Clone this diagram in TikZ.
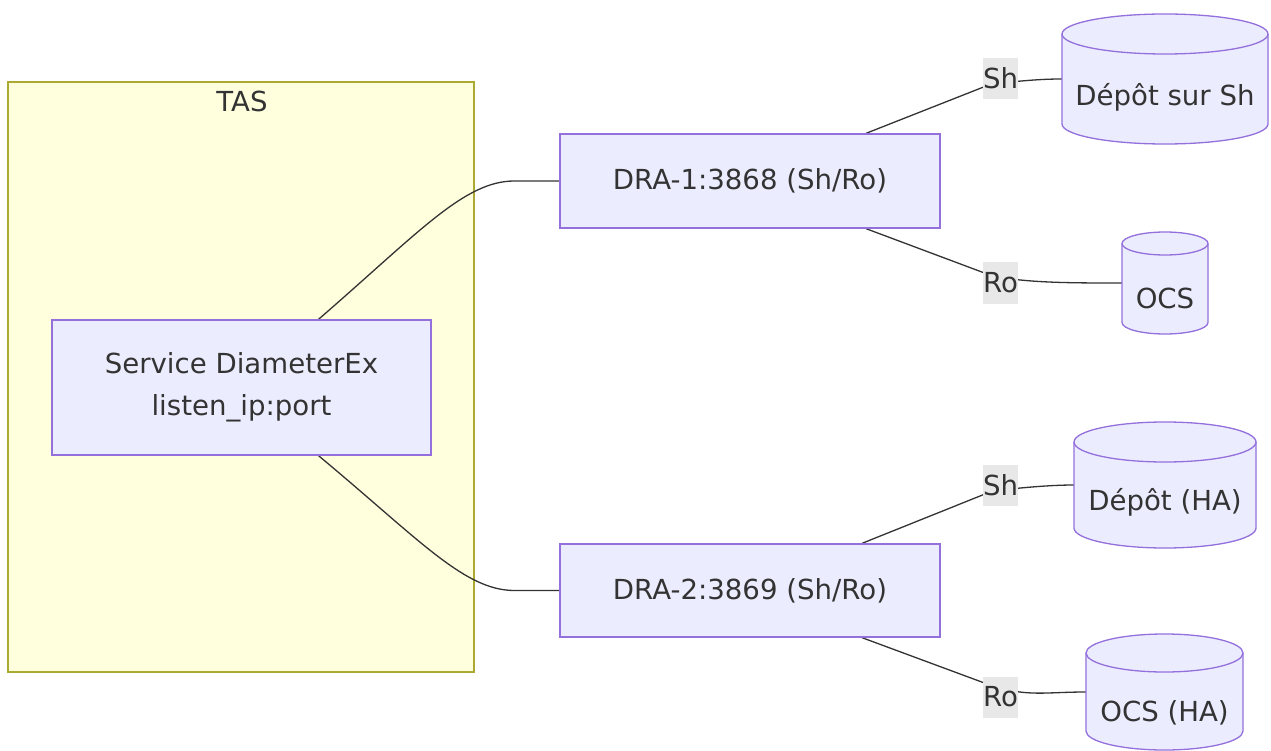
\documentclass[tikz,border=0pt]{standalone}
\usepackage{fontspec}
\setmainfont{DejaVu Sans}
\usetikzlibrary{calc}
\definecolor{nodefill}{HTML}{ECECFF}
\definecolor{nodestroke}{HTML}{9370DB}
\definecolor{clfill}{HTML}{FFFFDE}
\definecolor{clstroke}{HTML}{AAAA33}
\definecolor{txt}{HTML}{333333}
\definecolor{lblbg}{HTML}{E8E8E8}
\pgfdeclarelayer{bg}
\pgfdeclarelayer{edges}
\pgfsetlayers{bg,edges,main}
\tikzset{
  fnt/.style={font=\fontsize{27.6}{42}\selectfont, text=txt},
  procbox/.style={fnt, draw=nodestroke, fill=nodefill, line width=1.3pt, inner sep=0pt, align=center},
  elabel/.style={fnt, fill=lblbg, inner sep=0pt, minimum width=35pt, minimum height=41pt},
  edge/.style={draw=txt, line width=1.3pt},
  cylshape/.style={draw=nodestroke, fill=nodefill, line width=1.3pt},
}
% name, cx, ytop, ybot, rx, ry, text, text y
\newcommand{\mycyl}[8]{%
  \path[cylshape] ({#2-#5},{#3+#6}) -- ({#2-#5},{#4-#6})
     arc[start angle=180,end angle=360,x radius=#5pt,y radius=#6pt]
     -- ({#2+#5},{#3+#6})
     arc[start angle=0,end angle=180,x radius=#5pt,y radius=#6pt] -- cycle;
  \draw[draw=nodestroke, line width=1.3pt] ({#2-#5},{#3+#6})
     arc[start angle=180,end angle=360,x radius=#5pt,y radius=#6pt];
  \node[inner sep=0pt, minimum width={2*#5pt}, minimum height={(#4-#3)*1pt}] (#1) at (#2,{(#3+#4)/2}) {};
  \node[fnt] at (#2,#8) {#7};
}
\begin{document}
\begin{tikzpicture}[x=1pt,y=-1pt]
\useasboundingbox (0,0) rectangle (1271,751);
% cluster
\begin{pgfonlayer}{bg}
\fill[white] (0,0) rectangle (1271,751);
\node[draw=clstroke, fill=clfill, line width=1.3pt, minimum width=466pt, minimum height=590pt, inner sep=0pt] (tas) at (241,377) {};
\end{pgfonlayer}
\node[fnt, anchor=center] (tasl) at (242,101) {TAS};
% nodes
\node[procbox, minimum width=379pt, minimum height=135pt] (svc) at (241.5,387.5) {Service DiameterEx\\listen\_ip:port};
\node[procbox, minimum width=380pt, minimum height=94pt] (dra1) at (750,181) {DRA-1:3868 (Sh/Ro)};
\node[procbox, minimum width=380pt, minimum height=93pt] (dra2) at (750,590.5) {DRA-2:3869 (Sh/Ro)};
\mycyl{c1}{1165}{14}{144}{103}{20}{Dépôt sur Sh}{97}
\mycyl{c2}{1165}{232}{334}{43}{11.5}{OCS}{298}
\mycyl{c3}{1165}{422}{548}{91}{20}{Dépôt (HA)}{502}
\mycyl{c4}{1164.5}{634}{750}{78.5}{19}{OCS (HA)}{713}
% edge labels
\node[elabel] (sh1) at (1000.5,78.5) {Sh};
\node[elabel] (ro1) at (1000.5,283) {Ro};
\node[elabel] (sh2) at (1000.5,485) {Sh};
\node[elabel] (ro2) at (1000.5,697) {Ro};
% edges
\begin{pgfonlayer}{edges}
\draw[edge] ($(svc.north)+(77,0)$) .. controls ($(dra1.west)+(-140,51)$) and ($(dra1.west)+(-95,0)$) .. ($(dra1.west)+(-45,0)$) -- (dra1.west);
\draw[edge] ($(svc.south)+(77,0)$) .. controls ($(dra2.west)+(-140,-51)$) and ($(dra2.west)+(-95,0)$) .. ($(dra2.west)+(-45,0)$) -- (dra2.west);
\draw[edge] ($(dra1.north)+(116,0)$) -- ($(sh1.center)+(-8,5)$) .. controls ($(sh1.east)+(0,3)$) and ($(c1.west)+(-25,0)$) .. (c1.west);
\draw[edge] ($(dra1.south)+(116,0)$) -- ($(ro1.center)+(-8,-7)$) .. controls ($(ro1.east)+(10,0)$) and ($(c2.west)+(-50,0)$) .. (c2.west);
\draw[edge] ($(dra2.north)+(112,0)$) -- ($(sh2.center)+(-8,6)$) .. controls ($(sh2.east)+(0,3)$) and ($(c3.west)+(-25,0)$) .. (c3.west);
\draw[edge] ($(dra2.south)+(112,0)$) -- ($(ro2.center)+(-8,-11)$) .. controls ($(ro2.east)+(10,0)$) and ($(c4.west)+(-40,0)$) .. (c4.west);
\end{pgfonlayer}
\end{tikzpicture}
\end{document}
